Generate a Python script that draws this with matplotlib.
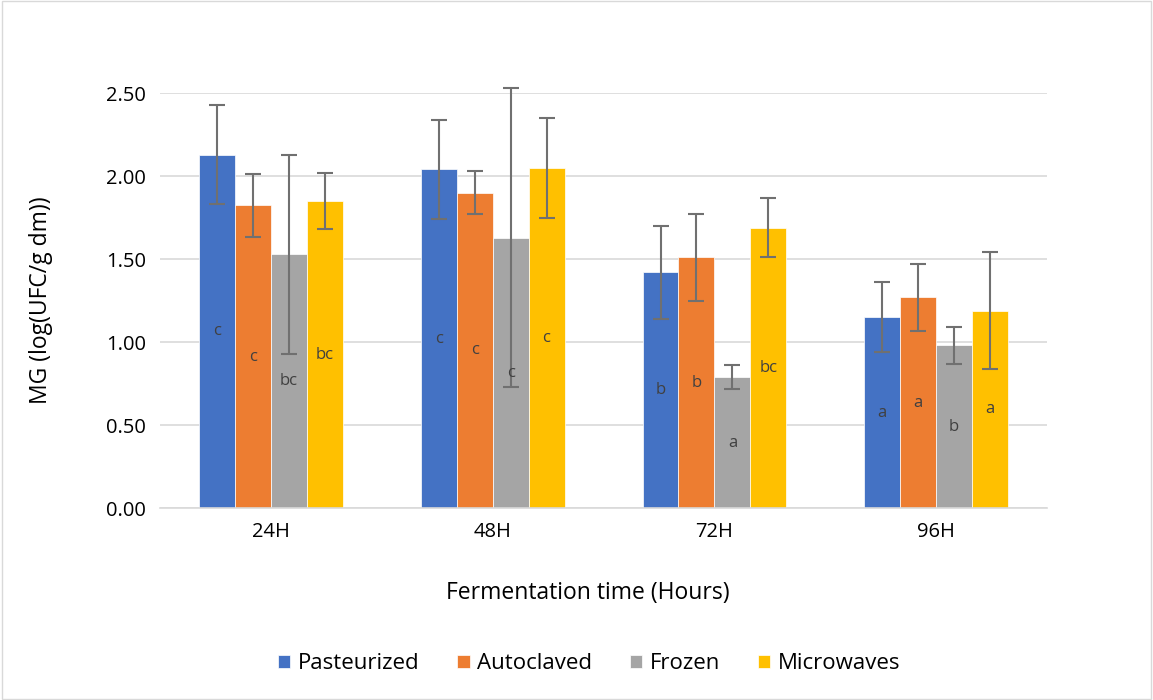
import matplotlib.pyplot as plt
import numpy as np

plt.rcParams["font.family"] = ["Open Sans", "DejaVu Sans"]

categories = ["24H", "48H", "72H", "96H"]
series = ["Pasteurized", "Autoclaved", "Frozen", "Microwaves"]
colors = ["#4472C4", "#ED7D31", "#A5A5A5", "#FFC000"]

pasteurized = [2.13, 2.04, 1.42, 1.15]
autoclaved = [1.825, 1.90, 1.51, 1.27]
frozen = [1.53, 1.63, 0.79, 0.98]
microwaves = [1.85, 2.05, 1.69, 1.19]

pasteurized_err = [0.30, 0.30, 0.28, 0.21]
autoclaved_err = [0.19, 0.13, 0.26, 0.20]
frozen_err = [0.60, 0.90, 0.07, 0.11]
microwaves_err = [0.17, 0.30, 0.18, 0.35]

pasteurized_lbl = ["c", "c", "b", "a"]
autoclaved_lbl = ["c", "c", "b", "a"]
frozen_lbl = ["bc", "c", "a", "b"]
microwaves_lbl = ["bc", "c", "bc", "a"]

values = [pasteurized, autoclaved, frozen, microwaves]
errors = [pasteurized_err, autoclaved_err, frozen_err, microwaves_err]
labels = [pasteurized_lbl, autoclaved_lbl, frozen_lbl, microwaves_lbl]

fig = plt.figure(figsize=(11.53, 7.0), dpi=100)
fig.patches.append(plt.Rectangle((0.002, 0.002), 0.996, 0.996, transform=fig.transFigure,
                                 fill=False, edgecolor="#D9D9D9", linewidth=1))
ax = fig.add_axes([0.1388, 0.274, 0.7693, 0.593])

x = np.arange(len(categories))
width = 0.162
for i, name in enumerate(series):
    pos = x + (i - 1.5) * width
    ax.bar(pos, values[i], width, color=colors[i], label=name, zorder=2,
           edgecolor="white", linewidth=0.5)
    ax.errorbar(pos, values[i], yerr=errors[i], fmt="none", ecolor="#707070",
                elinewidth=1.5, capsize=6, capthick=1.5, zorder=3, clip_on=False)
    for xp, v, lab in zip(pos, values[i], labels[i]):
        ax.text(xp, v / 2, lab, ha="center", va="center", fontsize=12, color="#404040", zorder=4)

ax.set_xlim(-0.5, 3.5)
ax.set_ylim(0, 2.5)
ax.set_yticks(np.arange(0, 2.51, 0.5))
ax.set_yticklabels([f"{t:.2f}" for t in np.arange(0, 2.51, 0.5)], fontsize=14.5)
ax.set_xticks(x)
ax.set_xticklabels(categories, fontsize=14.5)
ax.tick_params(length=0, pad=10)
ax.yaxis.grid(True, color="#D9D9D9", linewidth=1.2, zorder=0)
ax.set_axisbelow(True)
for side in ["top", "right", "left"]:
    ax.spines[side].set_visible(False)
ax.spines["bottom"].set_color("#D9D9D9")
ax.spines["bottom"].set_linewidth(1.2)

ax.set_ylabel("MG (log(UFC/g dm))", fontsize=16.5, labelpad=38)
ax.set_xlabel("Fermentation time (Hours)", fontsize=16.5)
ax.xaxis.set_label_coords(0.482, -0.176)

ax.legend(loc="center", bbox_to_anchor=(0.484, -0.375), ncol=4, frameon=False, fontsize=16,
          handlelength=0.55, handleheight=0.55, handletextpad=0.35, columnspacing=1.7)

fig.savefig("out.png", dpi=100)
